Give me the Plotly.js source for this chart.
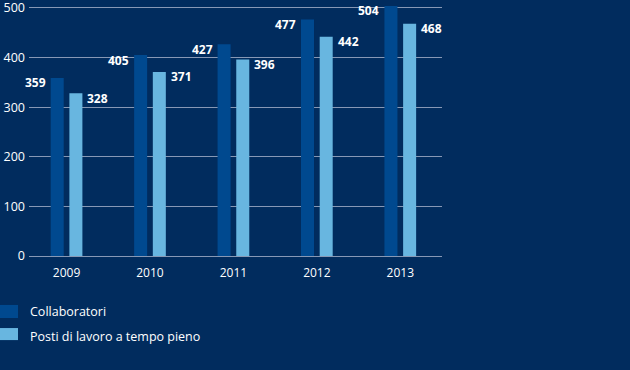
<!DOCTYPE html>
<html><head><meta charset="utf-8">
<script src="https://cdn.plot.ly/plotly-3.0.1.min.js"></script>
<style>html,body{margin:0;padding:0;background:#012c5e;}</style>
</head><body>
<div id="chart" style="width:630px;height:370px;"></div>
<script>
const years = [2009, 2010, 2011, 2012, 2013];
const yearLabels = ['2009', '2010', '2011', '2012', '2013'];
const collaboratori = [359, 405, 427, 477, 504];
const postiTempoPieno = [328, 371, 396, 442, 468];
const seriesNames = ['Collaboratori', 'Posti di lavoro a tempo pieno'];
const yTicks = [0, 100, 200, 300, 400, 500];

const darkColor = '#00498f';
const lightColor = '#68b6e0';
const bg = '#012c5e';
const gridColor = '#8798b5';
const barW = 0.156;
const FONT = 'Open Sans, sans-serif';

const traces = [
  {type:'bar', x: years, y: collaboratori, name: seriesNames[0], width: barW, offset: -0.19,
   marker:{color: darkColor, line:{width:0}}, hoverinfo:'skip'},
  {type:'bar', x: years, y: postiTempoPieno, name: seriesNames[1], width: barW, offset: 0.034,
   marker:{color: lightColor, line:{width:0}}, hoverinfo:'skip'}
];

const annotations = [];
years.forEach((yr, i) => {
  annotations.push({x: yr - 0.19, y: collaboratori[i], xref:'x', yref:'y', text: String(collaboratori[i]),
    showarrow:false, xanchor:'right', yanchor:'middle', xshift:-3, yshift:-5,
    font:{family:FONT, size:12, color:'#ffffff', weight:'bold'}});
  annotations.push({x: yr + 0.034 + barW, y: postiTempoPieno[i], xref:'x', yref:'y', text: String(postiTempoPieno[i]),
    showarrow:false, xanchor:'left', yanchor:'middle', xshift:3, yshift:-5,
    font:{family:FONT, size:12, color:'#ffffff', weight:'bold'}});
});

// legend (drawn manually to match the reference placement)
const legendColors = [darkColor, lightColor];
const legendBoxes = [[-0.195, -0.247], [-0.287, -0.335]];
const legendTextY = [-0.223, -0.319];
const shapes = [];
seriesNames.forEach((nm, i) => {
  shapes.push({type:'rect', xref:'paper', yref:'paper', x0:-0.0702, x1:-0.0266,
    y0: legendBoxes[i][1], y1: legendBoxes[i][0], fillcolor: legendColors[i], line:{width:0}});
  annotations.push({xref:'paper', yref:'paper', x:-0.0024, y: legendTextY[i], text: nm,
    showarrow:false, xanchor:'left', yanchor:'middle',
    font:{family:FONT, size:12.5, color:'#ffffff'}});
});

const layout = {
  width: 630, height: 370,
  paper_bgcolor: bg, plot_bgcolor: bg,
  margin: {l:29, r:188, t:5, b:114},
  barmode: 'overlay',
  showlegend: false,
  xaxis: {type:'linear', range:[2008.55, 2013.5], tickmode:'array', tickvals: years, ticktext: yearLabels,
    showgrid:false, zeroline:false, showline:false, ticks:'', fixedrange:true, ticklabelstandoff: 8,
    tickfont:{family:FONT, size:12, color:'#ffffff'}},
  yaxis: {range:[0, 506], tickmode:'array', tickvals: yTicks, showgrid:true, gridcolor:gridColor, gridwidth:1,
    zeroline:true, zerolinecolor:gridColor, zerolinewidth:1, showline:false, ticks:'', ticklabelstandoff: 3,
    ticklabeloverflow:'allow',
    tickfont:{family:FONT, size:12.5, color:'#ffffff'}},
  shapes: shapes,
  annotations: annotations,
  font:{family:FONT, color:'#ffffff'}
};

Plotly.newPlot('chart', traces, layout, {displayModeBar:false, staticPlot:true});
</script>
</body></html>
